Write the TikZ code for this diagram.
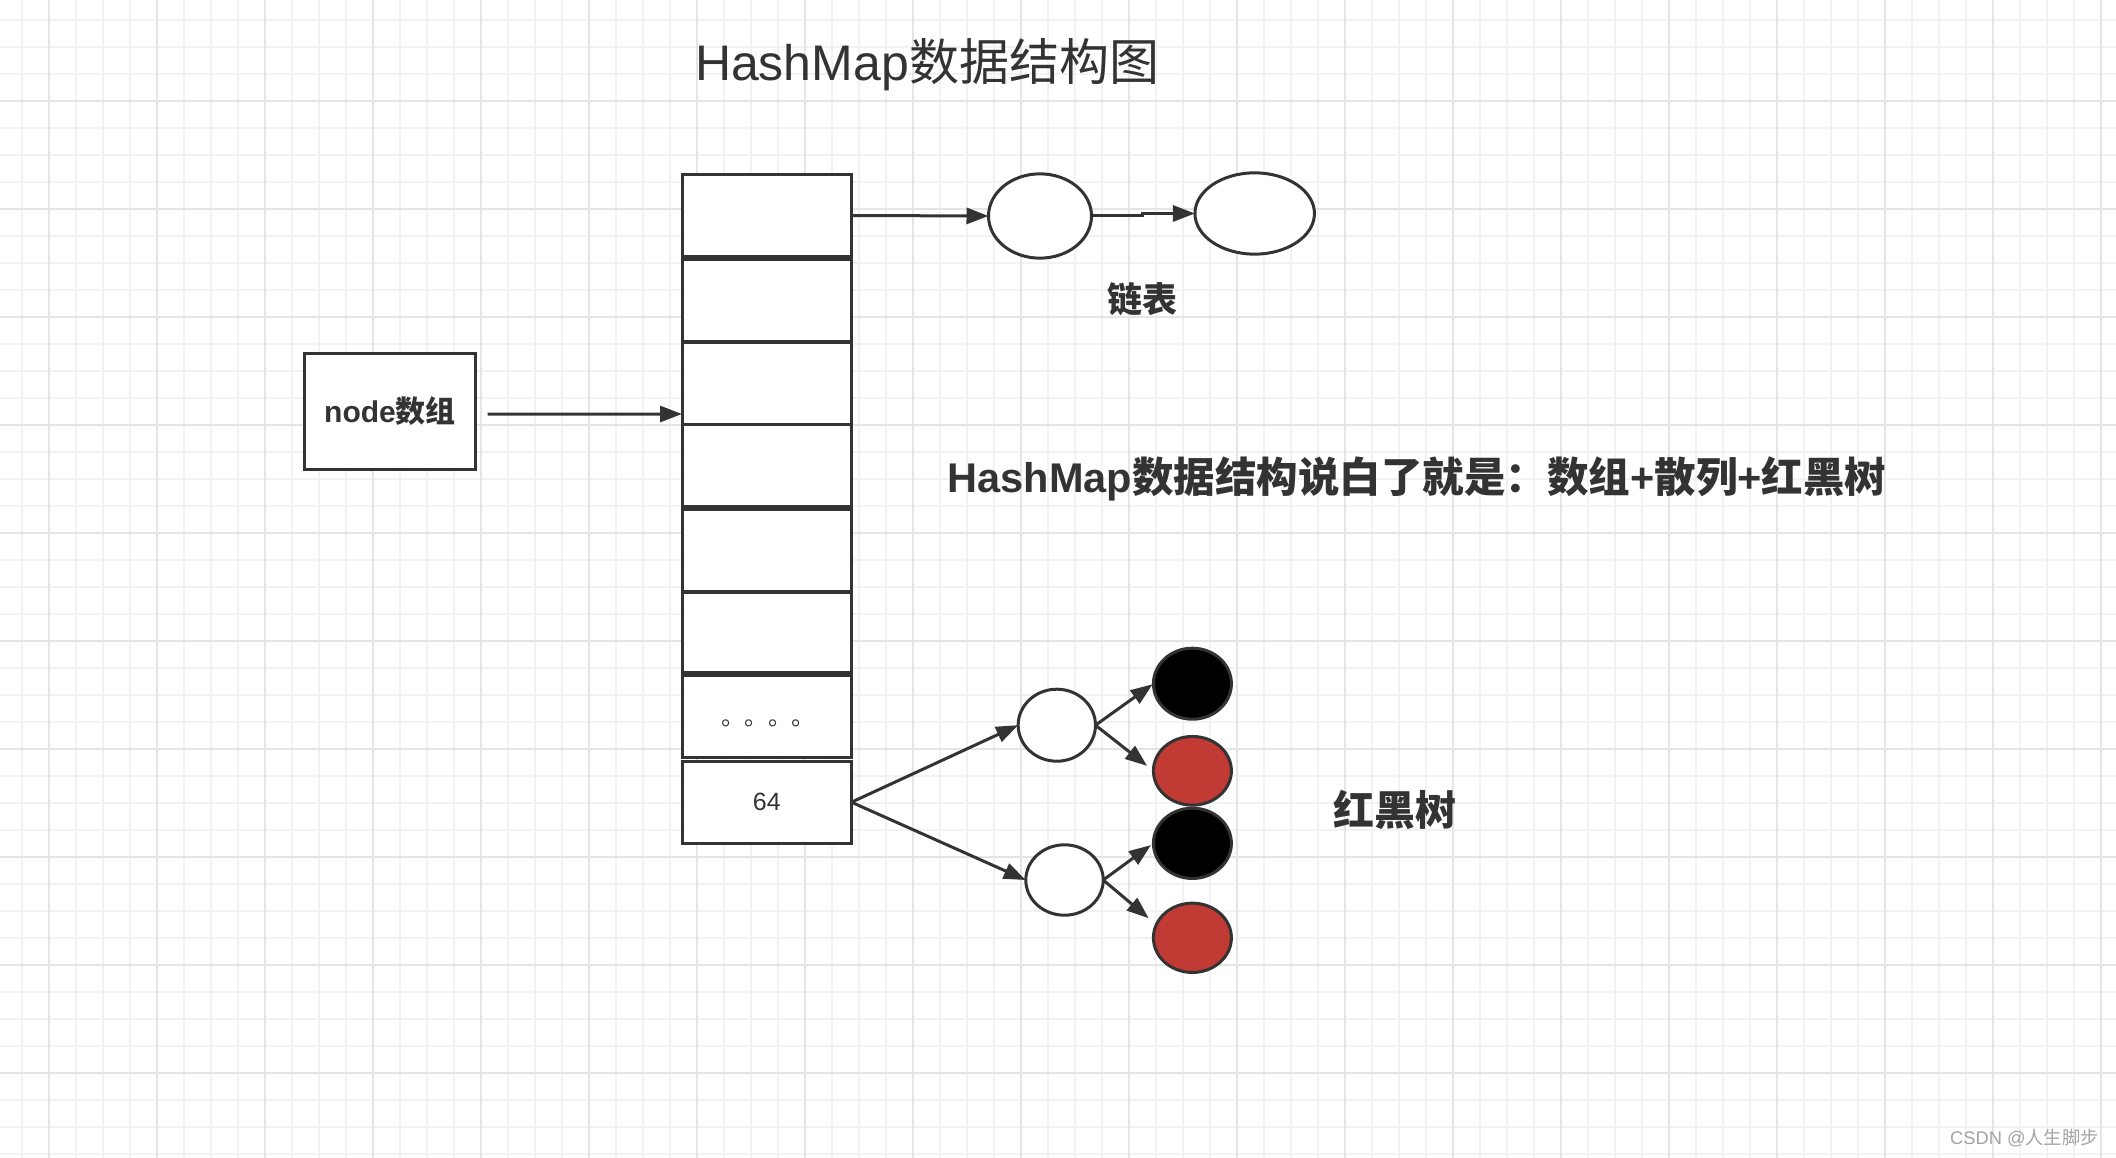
\documentclass[tikz,border=0pt]{standalone}
\usepackage{fontspec}
\setmainfont{Liberation Sans}
\newfontfamily\cjk{Noto Sans CJK SC}
\usetikzlibrary{arrows.meta,shapes.geometric}
\definecolor{dk}{HTML}{333333}
\definecolor{gridminor}{HTML}{F2F2F2}
\definecolor{gridmajor}{HTML}{E5E5E5}
\definecolor{rbred}{RGB}{193,58,52}
\definecolor{wm}{HTML}{A3A3A3}
\newcommand{\zh}[1]{{\cjk #1}}
\begin{document}
\begin{tikzpicture}[x=1pt,y=-1pt,
  cellbox/.style={draw=dk,line width=3pt,fill=white,rectangle,minimum width=169.5pt,minimum height=82pt,inner sep=0pt,outer sep=0pt,text=dk},
  ovalnode/.style={draw=dk,line width=3pt,ellipse,inner sep=0pt,outer sep=0pt},
  whiteoval/.style={ovalnode,fill=white},
  blackoval/.style={ovalnode,fill=black,minimum width=78pt},
  redoval/.style={ovalnode,fill=rbred,minimum width=78pt},
  arr/.style={draw=dk,line width=3pt,-{Triangle[length=22pt,width=16pt]}},
  minorline/.style={draw=gridminor,line width=1.5pt},
  majorline/.style={draw=gridmajor,line width=2pt}
]
\fill[white] (0,0) rectangle (2116,1158);
\useasboundingbox (0,0) rectangle (2116,1158);
% grid
\foreach \k in {0,...,77}{\draw[minorline] ({22.2+27*\k},0) -- ({22.2+27*\k},1158);}
\foreach \k in {0,...,42}{\draw[minorline] (0,{20+27*\k}) -- (2116,{20+27*\k});}
\foreach \k in {0,...,19}{\draw[majorline] ({49.2+108*\k},0) -- ({49.2+108*\k},1158);}
\foreach \k in {0,...,9}{\draw[majorline] (0,{101+108*\k}) -- (2116,{101+108*\k});}

% texts
\node[text=dk,font=\fontsize{50}{60}\selectfont,anchor=base,inner sep=0pt] (title) at (927,81) {HashMap\zh{数据结构图}};
\node[text=dk,font=\bfseries\fontsize{41.5}{50}\selectfont,anchor=base,inner sep=0pt] (desc) at (1417,492) {HashMap\zh{数据结构说白了就是：数组}+\zh{散列}+\zh{红黑树}};
\node[text=dk,font=\cjk\bfseries\fontsize{35}{42}\selectfont] (lt) at (1142.5,299) {链表};
\node[text=dk,font=\cjk\bfseries\fontsize{41}{49}\selectfont] (rbt) at (1395,809.5) {红黑树};
\node[text=wm,font=\fontsize{18.3}{22}\selectfont] (wmk) at (2024.5,1138) {CSDN @\zh{人生脚步}};

% array
\node[cellbox] (a1) at (766.75,215.5) {};
\node[cellbox] (a2) at (766.75,300.6) {};
\node[cellbox] (a3) at (766.75,383) {};
\node[cellbox] (a4) at (766.75,465.4) {};
\node[cellbox] (a5) at (766.75,550.9) {};
\node[cellbox,minimum height=80pt] (a6) at (766.75,632.2) {};
\node[cellbox,font=\cjk\fontsize{23.5}{28}\selectfont] (a7) at (766.75,716.7) {\hspace*{3pt}\raisebox{-8.5pt}[0pt][0pt]{。。。。}};
\node[cellbox,font=\fontsize{25}{30}\selectfont] (a8) at (766.75,802.2) {64};

% node array box
\node[draw=dk,line width=3pt,fill=white,minimum width=170.4pt,minimum height=116pt,inner sep=0pt,text=dk,font=\bfseries\fontsize{30}{36}\selectfont] (nb) at (390,411.2) {node\zh{数组}};

% linked list
\node[whiteoval,minimum width=103pt,minimum height=84.3pt] (l1) at (1040,216) {};
\node[whiteoval,minimum width=119.5pt,minimum height=81.3pt] (l2) at (1254.7,213.5) {};

% tree
\node[whiteoval,minimum width=77.3pt,minimum height=72pt] (w1) at (1056.8,725.2) {};
\node[whiteoval,minimum width=77.4pt,minimum height=70.4pt] (w2) at (1064.5,880) {};
\node[blackoval,minimum height=71pt] (b1) at (1192.4,683.7) {};
\node[redoval,minimum height=68.7pt] (r1) at (1192.4,770.8) {};
\node[blackoval,minimum height=70.3pt] (b2) at (1192.4,843.3) {};
\node[redoval,minimum height=69.3pt] (r2) at (1192.4,937.8) {};

% connectors
\draw[arr] ([shift={(11,3)}]nb.east) -- ([shift={(0,31)}]a3.west);
\draw[arr] (a1.east) -- (l1.west);
\draw[arr] (l1.east) -- ++(51,0) |- (l2.west);
\draw[arr] (a8.east) -- (w1.west);
\draw[arr] (a8.east) -- (w2.west);
\draw[arr,shorten >=1pt] (w1.east) -- (b1.west);
\draw[arr,shorten >=8pt] (w1.east) -- (r1.west);
\draw[arr,shorten >=3pt] (w2.east) -- (b2.west);
\draw[arr,shorten >=10pt] (w2.east) -- (r2.160);
\end{tikzpicture}
\end{document}
